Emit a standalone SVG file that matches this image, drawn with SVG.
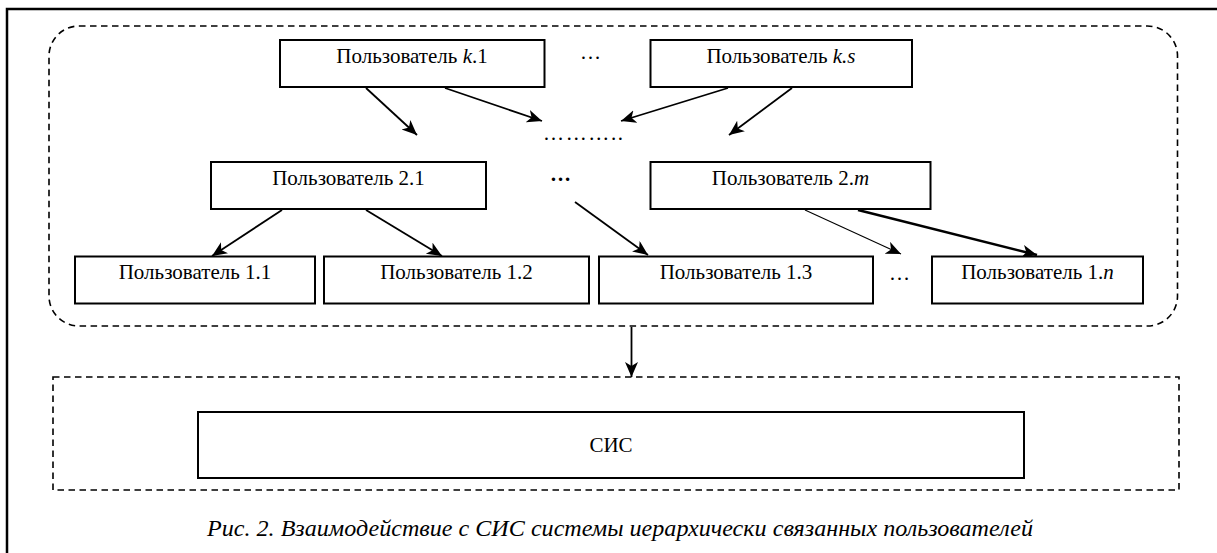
<svg xmlns="http://www.w3.org/2000/svg" width="1217" height="553" viewBox="0 0 1217 553">
<style>
.box{fill:#fff;stroke:#000;stroke-width:2}
.lbl{font-family:"Liberation Serif","Times New Roman",serif;font-size:21px;fill:#000;text-anchor:middle}
.it{font-style:italic}
.dash{fill:none;stroke:#000;stroke-width:1.6;stroke-dasharray:6.5 4.5}
.arr{fill:none;stroke:#000;stroke-width:1.8;marker-end:url(#ah)}
.dots{font-family:"Liberation Serif","Times New Roman",serif;font-size:21px;fill:#000}
</style>
<defs>
<marker id="ah" markerUnits="userSpaceOnUse" markerWidth="18" markerHeight="14" refX="15" refY="6.5" orient="auto">
<path d="M0,0 L15,6.5 L0,13 L4,6.5 Z" fill="#000"/>
</marker>
</defs>
<rect width="1217" height="553" fill="#fff"/>
<path d="M7,553 V9 H1217" fill="none" stroke="#000" stroke-width="2.5"/>
<g id="containers">
<rect class="dash" x="49" y="26" width="1128.5" height="300" rx="30" ry="30"/>
<rect class="dash" x="53" y="377" width="1126" height="113"/>
</g>
<g id="connectors">
<line class="arr" x1="366" y1="88" x2="417" y2="135"/>
<line class="arr" x1="445" y1="88" x2="542" y2="121"/>
<line class="arr" x1="728" y1="88" x2="621" y2="121"/>
<line class="arr" x1="792" y1="88" x2="729" y2="135"/>
<line class="arr" x1="282" y1="210" x2="212" y2="256"/>
<line class="arr" x1="366" y1="210" x2="442" y2="256"/>
<line class="arr" x1="575" y1="202" x2="648" y2="255"/>
<line class="arr" style="stroke-width:1.1" x1="805" y1="210" x2="901" y2="254"/>
<line class="arr" style="stroke-width:2.6" x1="858" y1="210" x2="1037" y2="255"/>
<line class="arr" x1="631.5" y1="327" x2="631.5" y2="377"/>
</g>
<g id="ellipses">
<text class="dots" x="580" y="59">…</text>
<text class="dots" x="543" y="140" textLength="80">………..</text>
<text class="dots" x="550" y="181" style="font-weight:bold">…</text>
<text class="dots" x="889" y="280">…</text>
</g>
<g id="node-k1"><rect class="box" x="280" y="40" width="264.5" height="47"/><text class="lbl" x="412" y="63">Пользователь <tspan class="it">k</tspan>.1</text></g>
<g id="node-ks"><rect class="box" x="650.5" y="40" width="261.5" height="47"/><text class="lbl" x="781" y="63">Пользователь <tspan class="it">k.s</tspan></text></g>
<g id="node-21"><rect class="box" x="211" y="162" width="275" height="47"/><text class="lbl" x="348.5" y="185">Пользователь 2.1</text></g>
<g id="node-2m"><rect class="box" x="650.5" y="162" width="280" height="47"/><text class="lbl" x="790.5" y="185">Пользователь 2.<tspan class="it">m</tspan></text></g>
<g id="node-11"><rect class="box" x="75" y="256.5" width="240" height="47"/><text class="lbl" x="195" y="279">Пользователь 1.1</text></g>
<g id="node-12"><rect class="box" x="324" y="256.5" width="265" height="47"/><text class="lbl" x="456.5" y="279">Пользователь 1.2</text></g>
<g id="node-13"><rect class="box" x="599" y="256.5" width="274" height="47"/><text class="lbl" x="736" y="279">Пользователь 1.3</text></g>
<g id="node-1n"><rect class="box" x="932" y="256.5" width="211" height="47"/><text class="lbl" x="1037.5" y="279">Пользователь 1.<tspan class="it">n</tspan></text></g>
<g id="node-sis"><rect class="box" x="198" y="412" width="826" height="66"/><text class="lbl" x="611" y="452">СИС</text></g>
<g id="caption"><text class="lbl it" x="620" y="536" style="font-size:24px" textLength="826" lengthAdjust="spacingAndGlyphs">Рис. 2. Взаимодействие с СИС системы иерархически связанных пользователей</text></g>
</svg>
